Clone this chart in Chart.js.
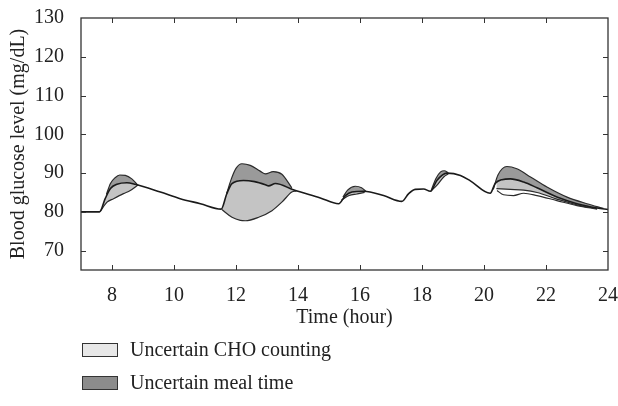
<!DOCTYPE html>
<html lang="en">
<head>
<meta charset="UTF-8">
<title>Blood glucose under meal uncertainty</title>
<script src="https://cdn.jsdelivr.net/npm/chart.js"></script>
<style>
  body { margin: 0; background: #fff; }
  .wrap { position: relative; width: 618px; height: 406px; }
  .legend { position: absolute; left: 82px; top: 333px; font-family: 'Liberation Serif', serif; font-size: 20px; color: #222; }
  .legend-row { display: flex; align-items: center; height: 33px; }
  .legend-box { width: 34px; height: 12px; border: 1px solid #333; margin-right: 12px; }
</style>
</head>
<body>
<div class="wrap">
  <canvas id="glucoseChart"></canvas>
  <div class="legend">
    <div class="legend-row"><span class="legend-box" style="background:#e8e8e8"></span>Uncertain CHO counting</div>
    <div class="legend-row"><span class="legend-box" style="background:#8c8c8c"></span>Uncertain meal time</div>
  </div>
</div>
<script>
// nominal glucose trace, [hour, mg/dL]
const nominal = [
  [7.0, 80.0], [7.6, 80.0], [7.78, 83.4], [7.95, 86.0], [8.16, 87.1], [8.48, 87.5], [8.75, 87.1],
  [9.56, 85.1], [10.2, 83.4], [10.85, 82.1], [11.52, 80.7], [11.7, 84.6], [11.87, 87.3],
  [12.24, 88.1], [12.6, 87.8], [12.95, 87.0], [13.05, 86.7], [13.27, 87.3], [13.85, 85.7],
  [14.72, 83.6], [15.31, 82.1], [15.53, 84.2], [15.74, 85.1], [16.12, 85.3], [16.76, 84.2],
  [17.35, 82.7], [17.57, 84.7], [17.78, 85.8], [18.05, 85.9], [18.27, 85.3], [18.48, 88.1],
  [18.8, 90.0], [19.24, 89.4], [19.56, 88.0], [20.2, 84.8], [20.36, 87.3], [20.58, 88.3],
  [20.85, 88.5], [21.28, 87.7], [21.71, 86.2], [22.35, 83.8], [23.0, 82.1], [23.65, 81.0], [24.0, 80.6]
];

// envelope curves around each meal
const breakfastHigh = [[7.82, 84.5], [7.95, 87.3], [8.1, 88.8], [8.25, 89.5], [8.43, 89.4], [8.64, 88.5], [8.82, 87.0]];
const breakfastLow = [[7.62, 80.1], [7.84, 82.5], [8.05, 83.4], [8.37, 84.7], [8.59, 85.5], [8.85, 87.0]];
const lunchHigh = [[11.7, 84.8], [11.85, 88.5], [12.0, 91.2], [12.19, 92.4], [12.46, 92.0], [12.78, 90.5], [12.95, 89.8], [13.2, 90.4], [13.48, 89.7], [13.8, 86.2]];
const lunchLow = [[11.55, 80.6], [11.65, 79.9], [11.87, 78.6], [12.14, 77.8], [12.3, 77.7], [12.73, 78.6], [13.16, 80.3], [13.48, 82.5], [13.8, 85.1], [13.95, 85.4]];
const snackHigh = [[15.45, 83.8], [15.6, 85.6], [15.85, 86.6], [16.05, 86.2], [16.2, 85.2]];
const snackLow = [[15.4, 83.0], [15.65, 84.2], [15.9, 84.6], [16.15, 85.0]];
const teaHigh = [[18.3, 85.6], [18.45, 88.6], [18.6, 90.3], [18.72, 90.6], [18.85, 90.1]];
const teaLow = [[18.28, 85.3], [18.5, 87.0], [18.7, 89.0], [18.85, 89.8]];
const dinnerHigh = [[20.3, 85.8], [20.45, 89.5], [20.74, 91.7], [21.06, 91.1], [21.5, 89.0], [22.03, 86.4], [22.68, 83.8], [23.32, 82.1], [23.85, 80.9]];
const dinnerMid = [[20.4, 86.0], [20.85, 85.8], [21.28, 85.6], [21.71, 85.0], [22.35, 83.3], [23.0, 81.8], [23.65, 80.8]];
const dinnerLow = [[20.42, 85.5], [20.63, 84.4], [20.95, 84.2], [21.28, 84.8], [21.71, 84.2], [22.35, 82.9], [23.0, 81.6], [23.65, 80.7]];

const xTickValues = [7, 8, 10, 12, 14, 16, 18, 20, 22, 24];
const yTickValues = [65, 70, 80, 90, 100, 110, 120, 130];

const DARK = '#9a9a9a';
const LIGHT = '#c4c4c4';
const toXY = pts => pts.map(p => ({ x: p[0], y: p[1] }));

function curve(pts, fill, color, order) {
  return {
    data: toXY(pts),
    borderColor: '#2b2b2b',
    borderWidth: 1.2,
    pointRadius: 0,
    cubicInterpolationMode: 'monotone',
    fill: fill,
    backgroundColor: color,
    order: order
  };
}

const datasets = [
  {
    data: toXY(nominal),
    borderColor: '#1a1a1a',
    borderWidth: 1.6,
    pointRadius: 0,
    cubicInterpolationMode: 'monotone',
    fill: false,
    order: 0
  },
  curve(breakfastHigh, { target: 0 }, DARK, 1),
  curve(breakfastLow, { target: 0 }, LIGHT, 1),
  curve(lunchHigh, { target: 0 }, DARK, 1),
  curve(lunchLow, { target: 0 }, LIGHT, 1),
  curve(snackHigh, { target: 0 }, DARK, 1),
  curve(snackLow, { target: 0 }, LIGHT, 1),
  curve(teaHigh, { target: 0 }, DARK, 1),
  curve(teaLow, { target: 0 }, LIGHT, 1),
  curve(dinnerHigh, { target: 0 }, DARK, 1),
  curve(dinnerMid, { target: 0 }, LIGHT, 2),
  curve(dinnerLow, { target: 11 }, '#8c8c8c', 1)
];

// box around the plot with short inward ticks on all four sides
const frameTicks = {
  id: 'frameTicks',
  afterDraw(chart) {
    const { ctx, chartArea: a, scales: { x, y } } = chart;
    ctx.save();
    ctx.strokeStyle = '#333';
    ctx.lineWidth = 1.3;
    ctx.strokeRect(a.left, a.top, a.right - a.left, a.bottom - a.top);
    ctx.lineWidth = 1;
    ctx.beginPath();
    x.ticks.forEach(t => {
      if (t.value <= x.min || t.value >= x.max) return;
      const px = Math.round(x.getPixelForValue(t.value)) + 0.5;
      ctx.moveTo(px, a.bottom); ctx.lineTo(px, a.bottom - 5);
      ctx.moveTo(px, a.top); ctx.lineTo(px, a.top + 5);
    });
    y.ticks.forEach(t => {
      if (t.value <= y.min || t.value >= y.max) return;
      const py = Math.round(y.getPixelForValue(t.value)) + 0.5;
      ctx.moveTo(a.left, py); ctx.lineTo(a.left + 5, py);
      ctx.moveTo(a.right, py); ctx.lineTo(a.right - 5, py);
    });
    ctx.stroke();
    ctx.restore();
  }
};

const font = { family: "'Liberation Serif', serif", size: 20 };

new Chart(document.getElementById('glucoseChart'), {
  type: 'line',
  data: { datasets },
  options: {
    responsive: true,
    maintainAspectRatio: false,
    animation: false,
    layout: { padding: { top: 18, right: 10, bottom: 76, left: 0 } },
    plugins: { legend: { display: false }, tooltip: { enabled: false } },
    scales: {
      x: {
        type: 'linear',
        min: 7,
        max: 24,
        afterBuildTicks: s => { s.ticks = xTickValues.map(v => ({ value: v })); },
        // fixed axis height, and no extra room for the edge labels
        afterFit: s => { s.height = 60; s.paddingLeft = 0; s.paddingRight = 0; },
        grid: { display: false },
        border: { display: false },
        ticks: {
          color: '#222',
          font,
          padding: 6,
          maxRotation: 0,
          autoSkip: false,
          callback: v => (v === 7 ? null : v)
        },
        title: { display: true, text: 'Time (hour)', color: '#222', font, padding: 0 }
      },
      y: {
        min: 65,
        max: 130,
        afterBuildTicks: s => { s.ticks = yTickValues.map(v => ({ value: v })); },
        afterFit: s => { s.width = 81; s.paddingTop = 0; s.paddingBottom = 0; },
        grid: { display: false },
        border: { display: false },
        ticks: {
          color: '#222',
          font,
          padding: 9,
          autoSkip: false,
          callback: v => (v === 65 ? null : v)
        },
        title: { display: true, text: 'Blood glucose level (mg/dL)', color: '#222', font, padding: { top: 7, bottom: 0 } }
      }
    }
  },
  plugins: [frameTicks]
});
</script>
</body>
</html>
